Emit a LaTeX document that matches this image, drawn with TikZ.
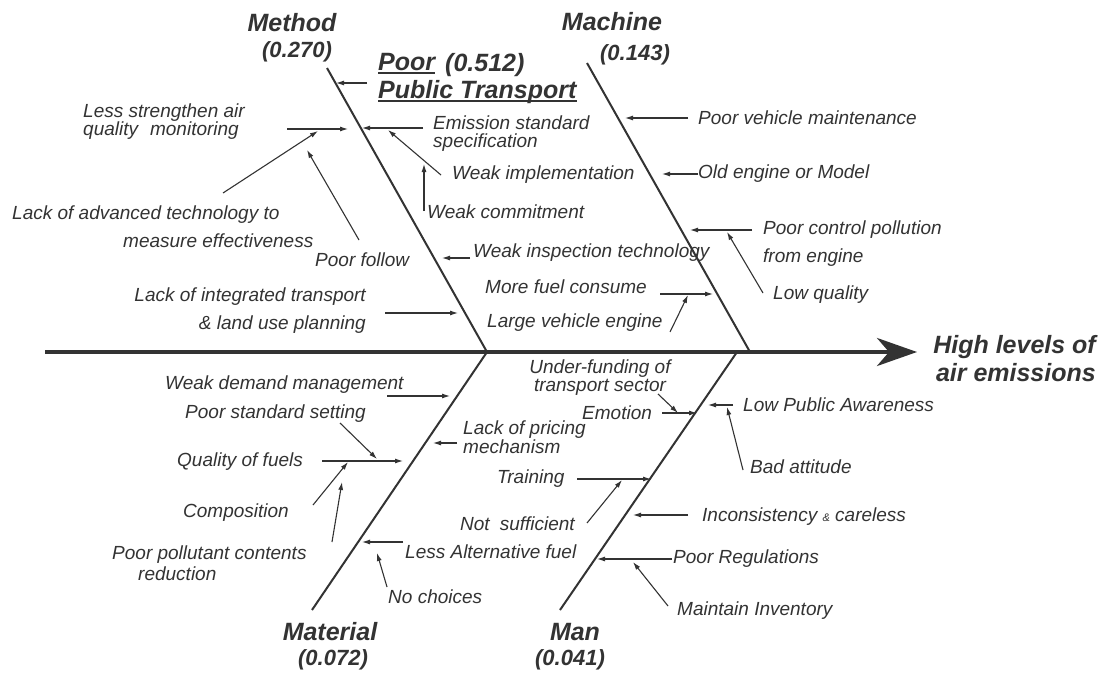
\documentclass[tikz,border=0pt]{standalone}
\usepackage{fontspec}
\setmainfont{Liberation Sans}
\usetikzlibrary{arrows.meta}
\definecolor{ink}{HTML}{333333}
\begin{document}
\begin{tikzpicture}[x=1pt,y=-1pt,
  txt/.style={font=\fontsize{19}{18}\selectfont\itshape, text=ink, inner sep=0pt},
  txtw/.style={font=\fontsize{19}{28}\selectfont\itshape, text=ink, inner sep=0pt},
  hd/.style={font=\fontsize{25}{28}\selectfont\bfseries\itshape, text=ink, inner sep=0pt},
  num/.style={font=\fontsize{22}{26}\selectfont\bfseries\itshape, text=ink, inner sep=0pt},
  bone/.style={draw=ink, line width=2pt},
  arr/.style={draw=ink, line width=1.1pt, -{Latex[length=8pt,width=5pt]}},
  ul/.style={draw=ink, line width=1.8pt},
]
\useasboundingbox[fill=white] (0,0) rectangle (1111,674);

% spine and bones
\coordinate (tail) at (45,352);
\coordinate (head) at (917,352);
\draw[draw=ink, line width=4pt, -{Stealth[length=40pt,width=28pt,inset=12pt]}] (tail) -- (head);
\coordinate (mth) at (327,68);  \coordinate (mtj) at (487,352);
\coordinate (mch) at (587,63);  \coordinate (mcj) at (750,352);
\coordinate (mat) at (312,610); \coordinate (maj) at (487,352);
\coordinate (mnb) at (560,610); \coordinate (mnj) at (737,352);
\draw[bone] (mth) -- (mtj);
\draw[bone] (mch) -- (mcj);
\draw[bone] (mat) -- (maj);
\draw[bone] (mnb) -- (mnj);

% headings
\node[hd] (lmethod) at (292,23) {Method};
\node[num] (nmethod) at (297,52) {(0.270)};
\node[hd] (lmachine) at (612,22) {Machine};
\node[num] (nmachine) at (635,55) {(0.143)};
\node[hd] (lmaterial) at (330,632) {Material};
\node[num] (nmaterial) at (333,660) {(0.072)};
\node[hd] (lman) at (575,632) {Man};
\node[num] (nman) at (570,660) {(0.041)};
\node[hd, anchor=base west] (poor) at (378,71) {Poor};
\node[hd, anchor=base west] (pnum) at (445,72) {(0.512)};
\node[hd, anchor=base west] (pubtr) at (378,99) {Public Transport};
\draw[ul] ([yshift=-2pt]poor.base west) -- ([yshift=-2pt]poor.base east);
\draw[ul] ([yshift=-2pt]pubtr.base west) -- ([yshift=-2pt]pubtr.base east);
\node[hd, align=right, anchor=east] (effect) at (1096,359) {High levels of\\air emissions};

% Method causes
\node[txt, align=left, anchor=west] (t1) at (83,122) {Less strengthen air\\quality\hspace{12pt}monitoring};
\node[txtw, align=left, anchor=west] (t2) at (12,227) {Lack of advanced technology to\\\hspace*{111pt}measure effectiveness};
\node[txt, anchor=west] (t3) at (315,260) {Poor follow};
\node[txtw, align=right, anchor=east] (t4) at (366,311) {Lack of integrated transport\\\& land use planning};
\node[txt, align=left, anchor=west] (t5) at (433,134) {Emission standard\\specification};
\node[txt, anchor=west] (t6) at (452,175) {Weak implementation};
\node[txt, anchor=west] (t7) at (427,212) {Weak commitment};
\node[txt, anchor=west] (t8) at (473,253) {Weak inspection technology};
% Machine causes
\node[txt, anchor=west] (t9) at (485,287) {More fuel consume};
\node[txt, anchor=west] (t10) at (487,323) {Large vehicle engine};
\node[txt, anchor=west] (t11) at (698,118) {Poor vehicle maintenance};
\node[txt, anchor=west] (t12) at (698,174) {Old engine or Model};
\node[txtw, align=left, anchor=west] (t13) at (763,244) {Poor control pollution\\from engine};
\node[txt, anchor=west] (t14) at (773,295) {Low quality};
% Material causes
\node[txt, anchor=west] (t15) at (165,385) {Weak demand management};
\node[txt, anchor=west] (t16) at (185,414) {Poor standard setting};
\node[txt, anchor=west] (t17) at (177,462) {Quality of fuels};
\node[txt, anchor=west] (t18) at (183,513) {Composition};
\node[font=\fontsize{19}{21}\selectfont\itshape, text=ink, inner sep=0pt, align=left, anchor=west] (t19) at (112,563) {Poor pollutant contents\\\hspace*{26pt}reduction};
\node[font=\fontsize{19}{19}\selectfont\itshape, text=ink, inner sep=0pt, align=left, anchor=west] (t20) at (463,437) {Lack of pricing\\mechanism};
\node[txt, anchor=west] (t21) at (405,552) {Less Alternative fuel};
\node[txt, anchor=west] (t22) at (388,597) {No choices};
% Man causes
\node[txt, align=center] (t23) at (600,378) {Under-funding of\\transport sector};
\node[txt, anchor=west] (t24) at (582,413) {Emotion};
\node[txt, anchor=west] (t25) at (497,479) {Training};
\node[txt, anchor=west] (t26) at (460,524) {Not\hspace{10pt}sufficient};
\node[txt, anchor=west] (t27) at (743,405) {Low Public Awareness};
\node[txt, anchor=west] (t28) at (750,467) {Bad attitude};
\node[txt, anchor=west] (t29) at (702,517) {Inconsistency {\fontsize{11}{11}\selectfont\&} careless};
\node[txt, anchor=west] (t30) at (673,559) {Poor Regulations};
\node[txt, anchor=west] (t31) at (677,611) {Maintain Inventory};

% arrow end points
\coordinate (a1s) at (287,129);  \coordinate (a1e) at (348,129);
\coordinate (a2s) at (223,193);  \coordinate (a2e) at (318,131);
\coordinate (a3s) at (359,240);  \coordinate (a3e) at (307,150);
\coordinate (a4s) at (385,313);  \coordinate (a4e) at (458,313);
\coordinate (a5s) at (367,83);   \coordinate (a5e) at (336,83);
\coordinate (a6s) at (423,128);  \coordinate (a6e) at (362,128);
\coordinate (a7s) at (441,175);  \coordinate (a7e) at (388,130);
\coordinate (a8s) at (424,211);  \coordinate (a8e) at (424,164);
\coordinate (a9s) at (470,258);  \coordinate (a9e) at (442,258);
\coordinate (a10s) at (660,294); \coordinate (a10e) at (713,294);
\coordinate (a11s) at (670,332); \coordinate (a11e) at (688,295);
\coordinate (a12s) at (688,118); \coordinate (a12e) at (625,118);
\coordinate (a13s) at (698,174); \coordinate (a13e) at (662,174);
\coordinate (a14s) at (752,230); \coordinate (a14e) at (690,230);
\coordinate (a15s) at (763,293); \coordinate (a15e) at (727,232);
\coordinate (a16s) at (387,396); \coordinate (a16e) at (450,396);
\coordinate (a17s) at (340,423); \coordinate (a17e) at (377,459);
\coordinate (a18s) at (322,461); \coordinate (a18e) at (403,461);
\coordinate (a19s) at (313,505); \coordinate (a19e) at (348,462);
\coordinate (a20s) at (332,542); \coordinate (a20e) at (342,482);
\coordinate (a21s) at (457,443); \coordinate (a21e) at (433,443);
\coordinate (a22s) at (403,542); \coordinate (a22e) at (362,542);
\coordinate (a23s) at (387,587); \coordinate (a23e) at (377,553);
\coordinate (a24s) at (658,394); \coordinate (a24e) at (678,413);
\coordinate (a25s) at (662,413); \coordinate (a25e) at (697,413);
\coordinate (a26s) at (577,479); \coordinate (a26e) at (651,479);
\coordinate (a27s) at (587,523); \coordinate (a27e) at (622,480);
\coordinate (a28s) at (733,405); \coordinate (a28e) at (708,405);
\coordinate (a29s) at (743,470); \coordinate (a29e) at (727,407);
\coordinate (a30s) at (688,515); \coordinate (a30e) at (633,515);
\coordinate (a31s) at (672,559); \coordinate (a31e) at (597,559);
\coordinate (a32s) at (668,606); \coordinate (a32e) at (633,562);

\foreach \i in {1,...,32} {\draw[arr] (a\i s) -- (a\i e);}
\end{tikzpicture}
\end{document}
